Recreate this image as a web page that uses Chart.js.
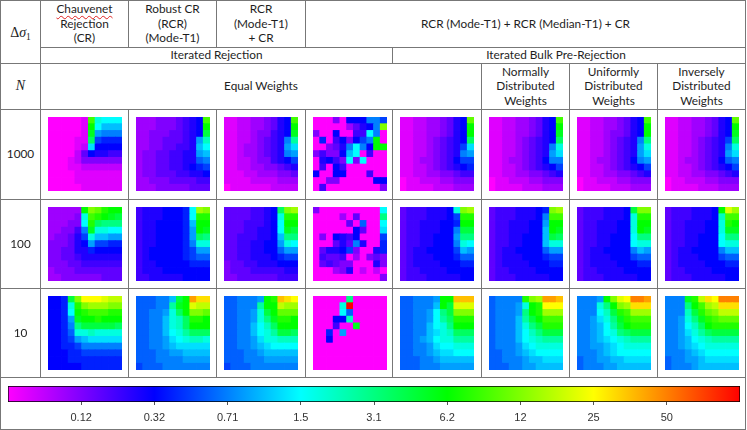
<!DOCTYPE html>
<html><head><meta charset="utf-8">
<script src="https://cdn.jsdelivr.net/npm/chart.js@4.4.1/dist/chart.umd.min.js"></script>
<style>
html,body{margin:0;padding:0;background:#fff;}
#wrap{position:relative;width:747px;height:430px;overflow:hidden;font-family:Lato,'Open Sans',sans-serif;color:#1e1e1e;}
.h{position:absolute;height:1px;background:#777;}
.v{position:absolute;width:1px;background:#777;}
.t{position:absolute;display:flex;align-items:center;justify-content:center;text-align:center;font-size:11.8px;line-height:14.4px;white-space:nowrap;}
.m{font-family:'Liberation Serif','DejaVu Serif',serif;font-size:14px;}
canvas.hm{position:absolute;}
#cb{position:absolute;left:0;top:380px;}
.sq{text-decoration:underline wavy #e02020;text-decoration-thickness:1px;text-underline-offset:2px;}
</style></head>
<body><div id="wrap"><canvas id="cb" width="747" height="48"></canvas></div>
<script>
// ---- DATA ----
// Each cell is a colour-scale level: index in LEVELS divided by 4 gives the position on
// the colour bar (0 = left end, 1 = "0.12", 2 = "0.32", ... 9 = "50", 10 = right end).
const LEVELS = "0123456789abcdefghijklmnopqrstuvwxyzABCDE";
const colorbarTicks = ['0.12','0.32','0.71','1.5','3.1','6.2','12','25','50'];
const rowLabels = ['1000','100','10'];

// N = 1000
const n1000_cr   = ["000001qhggg","000001ogeee","000001ndccc","000011la999","000012f8888","00002587766","00012444444","00011222222","00001111111","00001111111","00000111111"];
const n1000_rcr  = ["3334445678q","3334445678o","3344455678m","334455567di","334455667eg","344556677de","344556677bc","3445566789a","34455566778","33444555566","33344444555"];
const n1000_rcrc = ["1122334578q","1122334578o","1122344678n","112234567cj","112334567df","112334567cd","1122344678a","11223344567","11122333445","11112222333","01111112222"];
const n1000_mix  = ["00040888cca","000003578cs","40080066gc0","0906848aco0","00457cgc8oo","46448eg0600","07864g4g000","06086000000","80088000600","00440000088","06000000004"];
const n1000_bulk = ["1122334578r","1122334578o","1122334578o","1122345678l","112234567af","112234567cd","112334568aa","11223456789","11223344566","01122233444","01111222333"];
const n1000_norm = ["1122334578q","1122334578o","1122334578n","1122345678l","112234567ch","112234567df","112334568cc","1122345678a","11223344567","01122233444","01111222333"];
const n1000_unif = ["1122334578q","1122334578o","1122344578o","112234567ck","112234567dh","112234567df","112334568cd","1122345678a","11223344567","01122233444","01111222333"];
const n1000_inv  = ["1122334578r","1122334578o","1122334578n","112234567al","112234567ch","112234567df","112334568bc","1122345678a","11223344567","01122233444","01111222333"];

// N = 100
const n100_cr   = ["33333osrpoo","33334hqponm","33344gplkkk","33446cnhhgg","34457aheedd","444578daa99","44557798888","44556777777","44455666666","34445555555","33444444555"];
const n100_rcr  = ["67778889gts","67778889gpp","67788889eoo","67788889don","67788889dlk","67788889chh","67888889add","67888889abb","67788888999","67778888888","66777778888"];
const n100_rcrc = ["55556678lst","55556678hpp","55566678goo","55566778gnm","55666778ekk","55667788dhg","55667788bdd","556677789aa","45566777888","45556666677","44555555666"];
const n100_mix  = ["4000000000g","0000305000k","0000050b00g","0000008500f","0408768000a","000575c7009","05778a40079","06556030454","05654400074","00034702020","00000000004"];
const n100_bulk = ["56667778hst","56667778app","566777889oo","56677788cmm","56677888dkk","56677888chg","56778888aed","567778889bb","56777788899","56677778888","56667777788"];
const n100_norm = ["566677789st","56667778cqq","56677788doo","56677788eon","56677888eml","56677888ehh","56778888bdd","567778889aa","56777788899","56677778888","56667777788"];
const n100_unif = ["56667778mss","56667778hpp","56677788hoo","56677788hon","56677888gkk","56677888ghh","56778888ced","56777888abb","56777788899","56677778888","56667777788"];
const n100_inv  = ["56667778ovt","56667778iqq","56677788hpo","56677788hnn","56677888gkk","56677888ghh","56778888cee","56777888abb","56777788899","56677778888","56667777788"];

// N = 10
const n10_cr   = ["889mswwwvuu","889hpstttss","889gopqqqpp","889dnoopooo","889ckmmmmml","889bhhihhhh","889adefffff","8899acccccc","88899aaaaaa","88899999999","88888999999"];
const n10_rcr  = ["bbbccemozxx","bbbccjnovuu","bbccdhlossr","bbccehilppo","bbccehilooo","bbcceghjlll","bbccdfghiih","bbccdefffff","bbbccddeeee","bbbccccdddd","abbbccccccc"];
const n10_rcrc = ["bbcccdopyxw","bbcccjooutt","bbccdhmorrr","bbccdhknppo","bbccegilooo","bbcceghjmml","bbccdfhhiii","bbccdefgggg","bbbccdeeeee","bbbcccddddd","abbbccccccc"];
const n10_mix  = ["00000k00000","0000hE00000","0000gb00000","00088i00000","000600n0000","0090d000000","00800000000","00000000000","00000000000","00000000000","00000000000"];
const n10_bulk = ["bbcccdooyyy","bbccceomvvv","bbccdgkmsss","bbccdgjlppp","bbcceghkooo","bbccefhilll","bbcdeghhjjj","bbccdfgghhh","bbccdeffggg","bbbccdeeeee","bbbcccddddd"];
const n10_norm = ["bccccpstzzy","bcccdhopwww","bcccdkopttt","bcccejmoqqq","bcccehkmppp","bcccegikmmm","bccceghijjj","bcccdfghhhh","bbccdefgggg","bbcccdeefff","bbbccddeeee"];
const n10_unif = ["cccdosvwAAz","ccchkostxxx","cccgimpqttt","ccdfhknpqqq","ccdegjmoppp","ccdeghklmmm","ccdefghijjj","ccddefghhhh","cccdefggggg","bccddeeffff","bcccddeeeee"];
const n10_inv  = ["cccnpuxwAAA","ccckoqtuxxx","cccimprsuuu","ccdhknpqrrr","ccdgilopppp","ccdfhjlmmmm","ccdeghijjjj","ccdefghhhhh","cccdefggggg","bccddefffff","bcccdeeeeee"];

const panels = [
  [n1000_cr, n1000_rcr, n1000_rcrc, n1000_mix, n1000_bulk, n1000_norm, n1000_unif, n1000_inv],
  [n100_cr,  n100_rcr,  n100_rcrc,  n100_mix,  n100_bulk,  n100_norm,  n100_unif,  n100_inv],
  [n10_cr,   n10_rcr,   n10_rcrc,   n10_mix,   n10_bulk,   n10_norm,   n10_unif,   n10_inv]
];

// ---- COLOUR MAP ----
const STOPS = [[255,0,255],[0,0,255],[0,255,255],[0,255,0],[255,255,0],[255,0,0]];
const rgb = a => `rgb(${Math.round(a[0])},${Math.round(a[1])},${Math.round(a[2])})`;
function levelOf(ch){ const i = LEVELS.indexOf(ch); return (i < 0 ? 0 : i) / 4; }
function colorAt(u){
  u = Math.max(0, Math.min(10, u));
  const s = u / 2, i = Math.min(4, Math.floor(s)), f = s - i, a = STOPS[i], b = STOPS[i+1];
  return rgb([a[0]+(b[0]-a[0])*f, a[1]+(b[1]-a[1])*f, a[2]+(b[2]-a[2])*f]);
}

// ---- TABLE ----
const wrap = document.getElementById('wrap');
const X = [0,40,128,216,305,392,481,569,657,745];
const Y = [0,47,63,109,199,288,377,429];
function hline(y,x1,x2){const d=document.createElement('div');d.className='h';d.style.left=x1+'px';d.style.top=y+'px';d.style.width=(x2-x1+1)+'px';wrap.appendChild(d);}
function vline(x,y1,y2){const d=document.createElement('div');d.className='v';d.style.left=x+'px';d.style.top=y1+'px';d.style.height=(y2-y1+1)+'px';wrap.appendChild(d);}
[0,63,109,199,288,377,429].forEach(y=>hline(y,0,745));
hline(47,40,745);
vline(0,0,429); vline(745,0,429); vline(40,0,377);
[128,216,305].forEach(x=>{vline(x,0,47); vline(x,109,377);});
vline(392,47,63); vline(392,109,377);
[481,569,657].forEach(x=>vline(x,63,377));

function cell(x1,y1,x2,y2,html,cls,extra){
  const d=document.createElement('div'); d.className='t'+(cls?' '+cls:'');
  d.style.left=(x1+1)+'px'; d.style.top=(y1+1)+'px';
  d.style.width=(x2-x1-1)+'px'; d.style.height=(y2-y1-1)+'px';
  d.innerHTML='<div>'+html+'</div>'; if(extra) Object.assign(d.style,extra); wrap.appendChild(d);
}
cell(0,0,40,63,'Δ<i>σ</i><sub style="font-size:9.5px;vertical-align:-3px;line-height:0">1</sub>','m',{paddingTop:'3px',boxSizing:'border-box'});
cell(0,63,40,109,'<i>N</i>','m');
cell(40,0,128,47,'<span class="sq">Chauvenet</span><br>Rejection<br>(CR)');
cell(128,0,216,47,'Robust CR<br>(RCR)<br>(Mode-T1)');
cell(216,0,305,47,'RCR<br>(Mode-T1)<br>+ CR');
cell(305,0,745,47,'RCR (Mode-T1) + RCR (Median-T1) + CR');
cell(40,47,392,63,'Iterated Rejection');
cell(392,47,745,63,'Iterated Bulk Pre-Rejection',null,{paddingRight:'26px',boxSizing:'border-box',width:'352px'});
cell(40,63,481,109,'Equal Weights');
cell(481,63,569,109,'Normally<br>Distributed<br>Weights');
cell(569,63,657,109,'Uniformly<br>Distributed<br>Weights');
cell(657,63,745,109,'Inversely<br>Distributed<br>Weights');
rowLabels.forEach((lab,r)=>cell(0,Y[3+r],40,Y[4+r],lab));

// ---- HEATMAPS ----
const colLabels = Array.from({length:11},(_,i)=>String(i));
function heatmap(canvas, rows){
  const datasets = [];
  for (let r = rows.length-1; r >= 0; r--) {
    const vals = Array.from(rows[r]).slice(0,11).map(levelOf);
    datasets.push({data: vals.map(()=>1), backgroundColor: vals.map(colorAt),
      borderWidth:0, barPercentage:1, categoryPercentage:1, inflateAmount:0.4});
  }
  new Chart(canvas, {type:'bar', data:{labels:colLabels, datasets},
    options:{responsive:false, animation:false, events:[],
      layout:{padding:0},
      plugins:{legend:{display:false}, tooltip:{enabled:false}},
      scales:{x:{display:false, stacked:true}, y:{display:false, stacked:true, min:0, max:rows.length}}}});
}
panels.forEach((row,r)=>row.forEach((rows,c)=>{
  const cv=document.createElement('canvas'); cv.className='hm'; cv.width=74; cv.height=74;
  cv.style.left=(X[c+1]+8)+'px'; cv.style.top=(Y[3+r]+8)+'px';
  wrap.appendChild(cv); heatmap(cv, rows);
}));

// ---- COLOUR BAR ----
new Chart(document.getElementById('cb'), {
  type:'bar',
  data:{labels:[''], datasets:[{
    data:[[0,10]],
    backgroundColor:(c)=>{const ca=c.chart.chartArea; if(!ca) return '#fff';
      const g=c.chart.ctx.createLinearGradient(ca.left,0,ca.right,0);
      STOPS.forEach((s,i)=>g.addColorStop(i/5, rgb(s))); return g;},
    borderColor:'#000', borderWidth:1, borderSkipped:false,
    barPercentage:1, categoryPercentage:1}]},
  options:{indexAxis:'y', responsive:false, animation:false, events:[],
    layout:{padding:{left:8,right:7,top:6,bottom:0}},
    plugins:{legend:{display:false}, tooltip:{enabled:false}},
    scales:{
      x:{type:'linear', min:0, max:10,
        afterBuildTicks:s=>{s.ticks=colorbarTicks.map((_,i)=>({value:i+1}));},
        afterFit:s=>{s.height=26;},
        ticks:{callback:(v,i)=>colorbarTicks[i], autoSkip:false, maxRotation:0, padding:6,
          color:'#333', font:{family:"'Liberation Sans Narrow','Liberation Sans',sans-serif", size:11}},
        grid:{drawOnChartArea:false, tickLength:3, color:'#555'},
        border:{display:false}},
      y:{display:false}
    }}
});
</script></body></html>
